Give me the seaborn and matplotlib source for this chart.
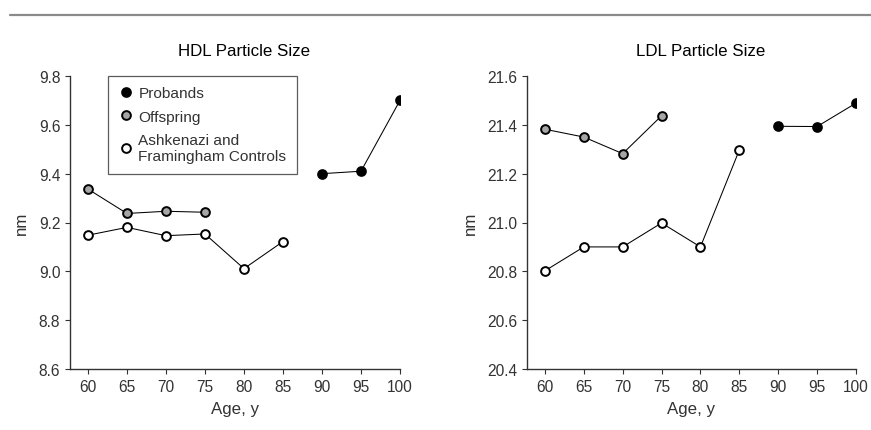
import matplotlib
matplotlib.use("Agg")
import matplotlib.pyplot as plt
from matplotlib.lines import Line2D
import seaborn as sns
import pandas as pd

# ---- data ----
ages_probands = [90, 95, 100]
ages_offspring = [60, 65, 70, 75]
ages_controls = [60, 65, 70, 75, 80, 85]

hdl_probands = [9.40, 9.41, 9.70]
hdl_offspring = [9.337, 9.237, 9.246, 9.242]
hdl_controls = [9.148, 9.180, 9.146, 9.153, 9.011, 9.122]

ldl_probands = [21.394, 21.393, 21.489]
ldl_offspring = [21.382, 21.350, 21.282, 21.437]
ldl_controls = [20.802, 20.900, 20.900, 20.998, 20.900, 21.297]

x_ticks = [60, 65, 70, 75, 80, 85, 90, 95, 100]
hdl_ticks = [8.6, 8.8, 9.0, 9.2, 9.4, 9.6, 9.8]
ldl_ticks = [20.4, 20.6, 20.8, 21.0, 21.2, 21.4, 21.6]

titles = ["HDL Particle Size", "LDL Particle Size"]
series_labels = ["Probands", "Offspring", "Ashkenazi and\nFramingham Controls"]
face_colors = ["black", "#a6a6a6", "white"]

sns.set_theme(style="ticks")
plt.rcParams["font.family"] = ["Liberation Sans", "DejaVu Sans"]

fig = plt.figure(figsize=(8.71, 4.31), dpi=100)
W, H = 871, 431
def rect(x0, x1, y0, y1):
    return [x0 / W, 1 - y1 / H, (x1 - x0) / W, (y1 - y0) / H]

ax1 = fig.add_axes(rect(70, 400, 77, 370))
ax2 = fig.add_axes(rect(527, 856, 77, 370))

txt_color = "#333333"
FS_TICK = 11.2
FS_LAB = 12.2
FS_LEG = 11.1
MS = 6.3
MEW = 1.4

def draw(ax, pro, off, con, yticks, title):
    groups = [(ages_probands, pro), (ages_offspring, off), (ages_controls, con)]
    for (xs, ys), fc in zip(groups, face_colors):
        df = pd.DataFrame({"age": xs, "val": ys})
        sns.lineplot(data=df, x="age", y="val", ax=ax, color="black", linewidth=0.75,
                     marker="o", markersize=MS, markerfacecolor=fc,
                     markeredgecolor="black", markeredgewidth=MEW)
    ax.set_xlim(57.7, 100)
    ax.set_ylim(yticks[0], yticks[-1])
    ax.set_xticks(x_ticks)
    ax.set_yticks(yticks)
    ax.set_yticklabels([f"{t:.1f}" for t in yticks])
    sns.despine(ax=ax)
    for s in ["left", "bottom"]:
        ax.spines[s].set_color("#333333")
        ax.spines[s].set_linewidth(1.0)
    ax.tick_params(axis="both", direction="out", length=3.5, width=0.8,
                   color="#333333", labelsize=FS_TICK, labelcolor=txt_color, pad=3.5)
    ax.set_xlabel("Age, y", fontsize=FS_LAB, color=txt_color, labelpad=5)
    ax.set_ylabel("nm", fontsize=FS_LAB, color=txt_color, labelpad=7)
    ax.set_title(title, fontsize=FS_LAB, color="black", pad=15, x=0.527)

draw(ax1, hdl_probands, hdl_offspring, hdl_controls, hdl_ticks, titles[0])
draw(ax2, ldl_probands, ldl_offspring, ldl_controls, ldl_ticks, titles[1])

handles = [Line2D([], [], linestyle="none", marker="o", markersize=MS,
                  markerfacecolor=fc, markeredgecolor="black", markeredgewidth=MEW)
           for fc in face_colors]
leg = ax1.legend(handles, series_labels, loc="upper left", bbox_to_anchor=(0.115, 1.0),
                 borderaxespad=0, frameon=True, fancybox=False, fontsize=FS_LEG,
                 handletextpad=0.3, borderpad=0.68, labelspacing=0.6, handlelength=1.0)
leg.get_frame().set_edgecolor("#333333")
leg.get_frame().set_linewidth(0.9)
for t in leg.get_texts():
    t.set_color(txt_color)

# header rule
fig.add_artist(Line2D([10 / W, 1.0], [1 - 16 / H, 1 - 16 / H], color="#8a8a8a", linewidth=1.6))

fig.savefig("out.png", dpi=100, facecolor="white")
